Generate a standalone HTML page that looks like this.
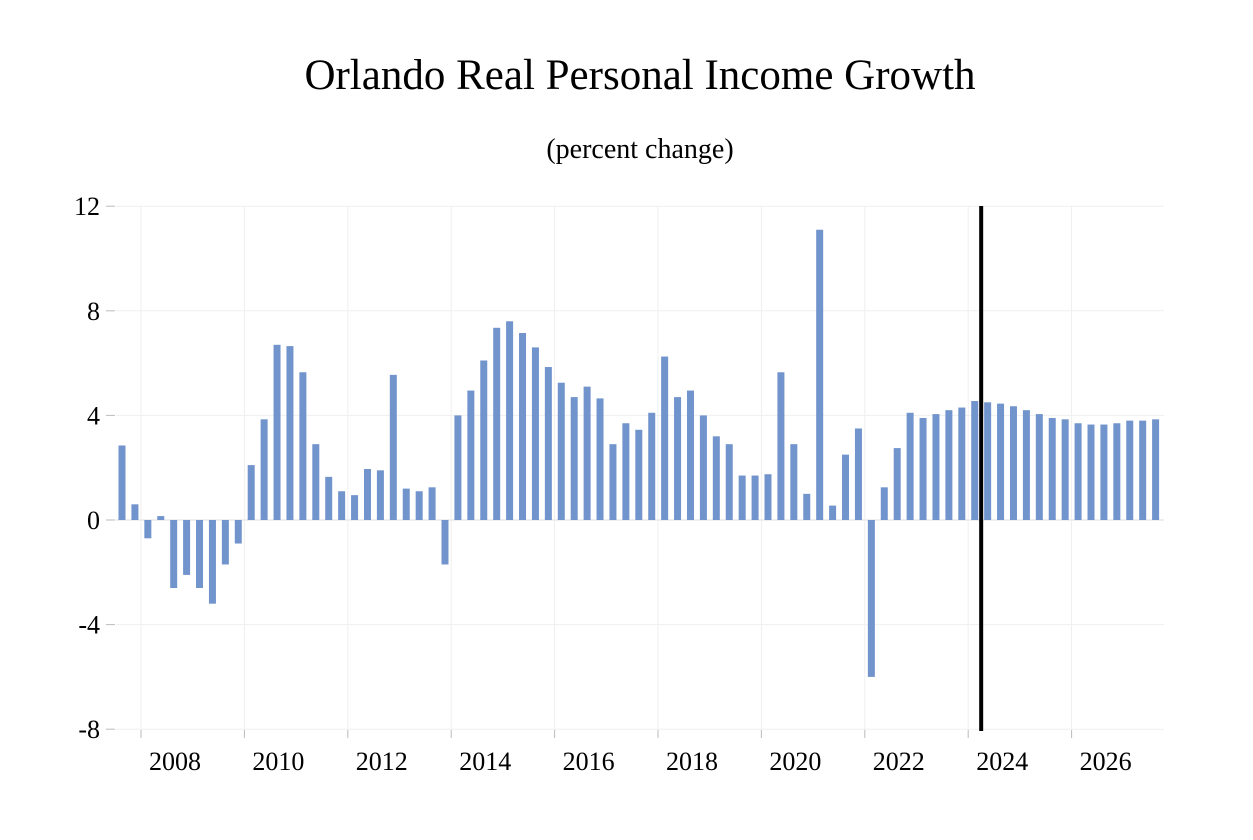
<!DOCTYPE html>
<html><head><meta charset="utf-8">
<style>
html,body{margin:0;padding:0;background:#fff;}
svg text{font-family:"Liberation Serif",serif;fill:#000;}
</style></head>
<body>
<svg id="chart" width="1253" height="835" viewBox="0 0 1253 835" xmlns="http://www.w3.org/2000/svg">
<text x="640" y="89" font-size="43" text-anchor="middle">Orlando Real Personal Income Growth</text>
<text x="640" y="158" font-size="28" text-anchor="middle">(percent change)</text>
<g id="grid"></g>
<g id="bars"></g>
<g id="axes"></g>
</svg>
<script>
const values = [2.85,0.6,-0.7,0.15,-2.6,-2.1,-2.6,-3.2,-1.7,-0.9,
2.1,3.85,6.7,6.65,5.65,2.9,1.65,1.1,0.95,1.95,
1.9,5.55,1.2,1.1,1.25,-1.7,4.0,4.95,6.1,7.35,
7.6,7.15,6.6,5.85,5.25,4.7,5.1,4.65,2.9,3.7,
3.45,4.1,6.25,4.7,4.95,4.0,3.2,2.9,1.7,1.7,
1.75,5.65,2.9,1.0,11.1,0.55,2.5,3.5,-6.0,1.25,
2.75,4.1,3.9,4.05,4.2,4.3,4.55,4.5,4.45,4.35,
4.2,4.05,3.9,3.85,3.7,3.65,3.65,3.7,3.8,3.8,3.85];
const yTicks = [12,8,4,0,-4,-8];
const xTickLabels = ["2008","2010","2012","2014","2016","2018","2020","2022","2024","2026"];
const startYear = 2007;      // first bar = 2007 Q1
const forecastStart = 2023.625;

const NS="http://www.w3.org/2000/svg";
function y(v){ return 520 - v*26.15; }
function xq(i){ return 122 + i*12.92; }
function xYear(yr){ return 141 + (yr-2008)*51.7; }
function mk(tag,attrs,parent){const e=document.createElementNS(NS,tag);for(const k in attrs)e.setAttribute(k,attrs[k]);parent.appendChild(e);return e;}
const grid=document.getElementById('grid'), bars=document.getElementById('bars'), axes=document.getElementById('axes');

yTicks.forEach(t=>{
  const l=mk('line',{x1:116,x2:1164,y1:y(t),y2:y(t),stroke:t===0?'#dcdcdc':'#efefef','stroke-width':1},grid);
  
  
  const tk=mk('line',{x1:106,x2:115,y1:y(t),y2:y(t),stroke:'#bbb','stroke-width':1},axes);
  
  
  const tx=mk('text',{x:100,y:y(t)+9,'font-size':26,'text-anchor':'end'},axes);
  tx.textContent=t;
  
  
});
xTickLabels.forEach(lab=>{
  const gx=xYear(+lab);
  const l=mk('line',{x1:gx,x2:gx,y1:206,y2:730,stroke:'#efefef','stroke-width':1},grid);
  
  
  const tk=mk('line',{x1:gx,x2:gx,y1:730,y2:738,stroke:'#bbb','stroke-width':1},axes);
  
  
  const tx=mk('text',{x:gx+34,y:770,'font-size':26,'text-anchor':'middle'},axes);
  tx.textContent=lab;
  
  
});
values.forEach((v,i)=>{
  const cx=xq(i), top=Math.min(y(v),y(0)), h=Math.abs(y(v)-y(0));
  const r=mk('rect',{x:cx-3.5,y:top,width:7,height:Math.max(h,0.5),fill:'#7194cc'},bars);
  
  
});
const fx=xq((forecastStart-startYear)*4);
const fl=mk('line',{x1:fx,x2:fx,y1:206,y2:731,stroke:'#000','stroke-width':4},axes);


</script>
</body></html>
